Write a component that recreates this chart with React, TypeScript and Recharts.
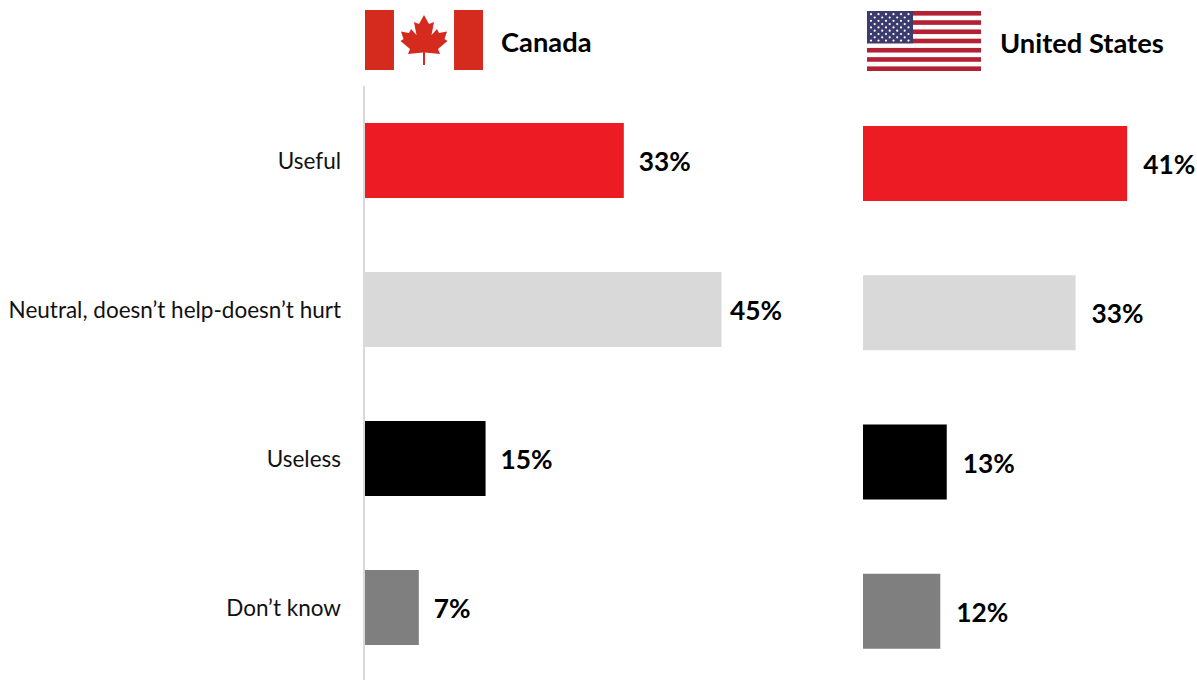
import React from "react";
import { BarChart, Bar, XAxis, YAxis, Cell, LabelList } from "recharts";

const categories = ["Useful", "Neutral, doesn’t help-doesn’t hurt", "Useless", "Don’t know"];
const canadaValues = [32.7, 45, 15.3, 6.9];
const usValues = [41, 33, 13, 12];
const barColors = ["#ED1C24", "#D9D9D9", "#000000", "#7F7F7F"];

const canadaRows = categories.map((name, i) => ({ name, value: canadaValues[i] }));
const usRows = categories.map((name, i) => ({ name, value: usValues[i] }));

const FONT = "Lato, Carlito, Calibri, sans-serif";

function CanadaFlag() {
  return (
    <svg width={118} height={60} viewBox="0 0 118 60" style={{ position: "absolute", left: 365, top: 10 }}>
      <rect x={0} y={0} width={118} height={60} fill="#fff" />
      <rect x={0} y={0} width={29} height={60} fill="#D52B1E" />
      <rect x={89} y={0} width={29} height={60} fill="#D52B1E" />
      <path
        fill="#D52B1E"
        d="M59 5 L64 14 L69 12 L66.5 25 L72 19 L74 23 L82 21.5 L79.5 29 L82.5 31 L73 39 L75 44 L60 42.5 L60 55 L58 55 L58 42.5 L43 44 L45 39 L35.5 31 L38.5 29 L36 21.5 L44 23 L46 19 L51.5 25 L49 12 L54 14 Z"
      />
    </svg>
  );
}

const starRows = [0, 1, 2, 3, 4, 5, 6, 7, 8];

function UsFlag() {
  const h = 60 / 13;
  return (
    <svg width={114} height={60} viewBox="0 0 114 60" style={{ position: "absolute", left: 867, top: 11 }}>
      <rect x={0} y={0} width={114} height={60} fill="#fff" />
      {Array.from({ length: 13 }).map((_, i) =>
        i % 2 === 0 ? <rect key={i} x={0} y={i * h} width={114} height={h} fill="#B22234" /> : null
      )}
      <rect x={0} y={0} width={46} height={h * 7} fill="#3C3B6E" />
      {starRows.map((r) =>
        Array.from({ length: r % 2 === 0 ? 6 : 5 }).map((_, c) => (
          <circle
            key={`${r}-${c}`}
            cx={(r % 2 === 0 ? 4 : 7.7) + c * 7.5}
            cy={3.2 + r * 3.3}
            r={1.1}
            fill="#fff"
          />
        ))
      )}
    </svg>
  );
}

const headingStyle: React.CSSProperties = {
  position: "absolute",
  fontFamily: FONT,
  fontWeight: 700,
  fontSize: 27.3,
  lineHeight: "30px",
  color: "#000",
  whiteSpace: "nowrap",
};

function makeLabel(gapFor: (i: number) => number, dy: number) {
  return (props: any) => {
    const { x, y, width, height, value, index } = props;
    return (
      <text
        x={Number(x) + Number(width) + gapFor(index)}
        y={Number(y) + Number(height) / 2 + dy}
        dominantBaseline="central"
        fontFamily={FONT}
        fontWeight={700}
        fontSize={26.3}
        fill="#000"
      >
        {`${Math.round(Number(value))}%`}
      </text>
    );
  };
}

const canadaLabel = makeLabel((i) => (i === 1 ? 8.5 : 15), 0);
const usLabel = makeLabel(() => 16, 0.5);

export default function App() {
  return (
    <div style={{ position: "absolute", left: 0, top: 0, width: 1197, height: 680, overflow: "hidden", background: "#fff" }}>
      <CanadaFlag />
      <div style={{ ...headingStyle, left: 501, top: 27 }}>Canada</div>
      <UsFlag />
      <div style={{ ...headingStyle, left: 1000, top: 28 }}>United States</div>

      <div style={{ position: "absolute", left: 0, top: 86 }}>
        <BarChart width={801} height={596} layout="vertical" data={canadaRows} margin={{ top: 0, right: 0, bottom: 0, left: 0 }}>
          <XAxis type="number" domain={[0, 55]} hide />
          <YAxis
            type="category"
            dataKey="name"
            width={364}
            interval={0}
            axisLine={{ stroke: "#D9D9D9", strokeWidth: 2 }}
            tickLine={false}
            tickMargin={17}
            tick={{ fontFamily: FONT, fontSize: 22.5, fill: "#111", dy: 0.5 }}
          />
          <Bar dataKey="value" barSize={75} isAnimationActive={false}>
            {canadaRows.map((_, i) => (
              <Cell key={i} fill={barColors[i]} />
            ))}
            <LabelList dataKey="value" content={canadaLabel} />
          </Bar>
        </BarChart>
      </div>

      <div style={{ position: "absolute", left: 861, top: 89 }}>
        <BarChart width={337} height={597} layout="vertical" data={usRows} margin={{ top: 0, right: 0, bottom: 0, left: 2 }}>
          <XAxis type="number" domain={[0, 52]} hide />
          <YAxis
            type="category"
            dataKey="name"
            width={0}
            interval={0}
            axisLine={{ stroke: "#D9D9D9", strokeWidth: 2 }}
            tickLine={false}
            tick={false}
          />
          <Bar dataKey="value" barSize={75} isAnimationActive={false}>
            {usRows.map((_, i) => (
              <Cell key={i} fill={barColors[i]} />
            ))}
            <LabelList dataKey="value" content={usLabel} />
          </Bar>
        </BarChart>
      </div>
    </div>
  );
}
